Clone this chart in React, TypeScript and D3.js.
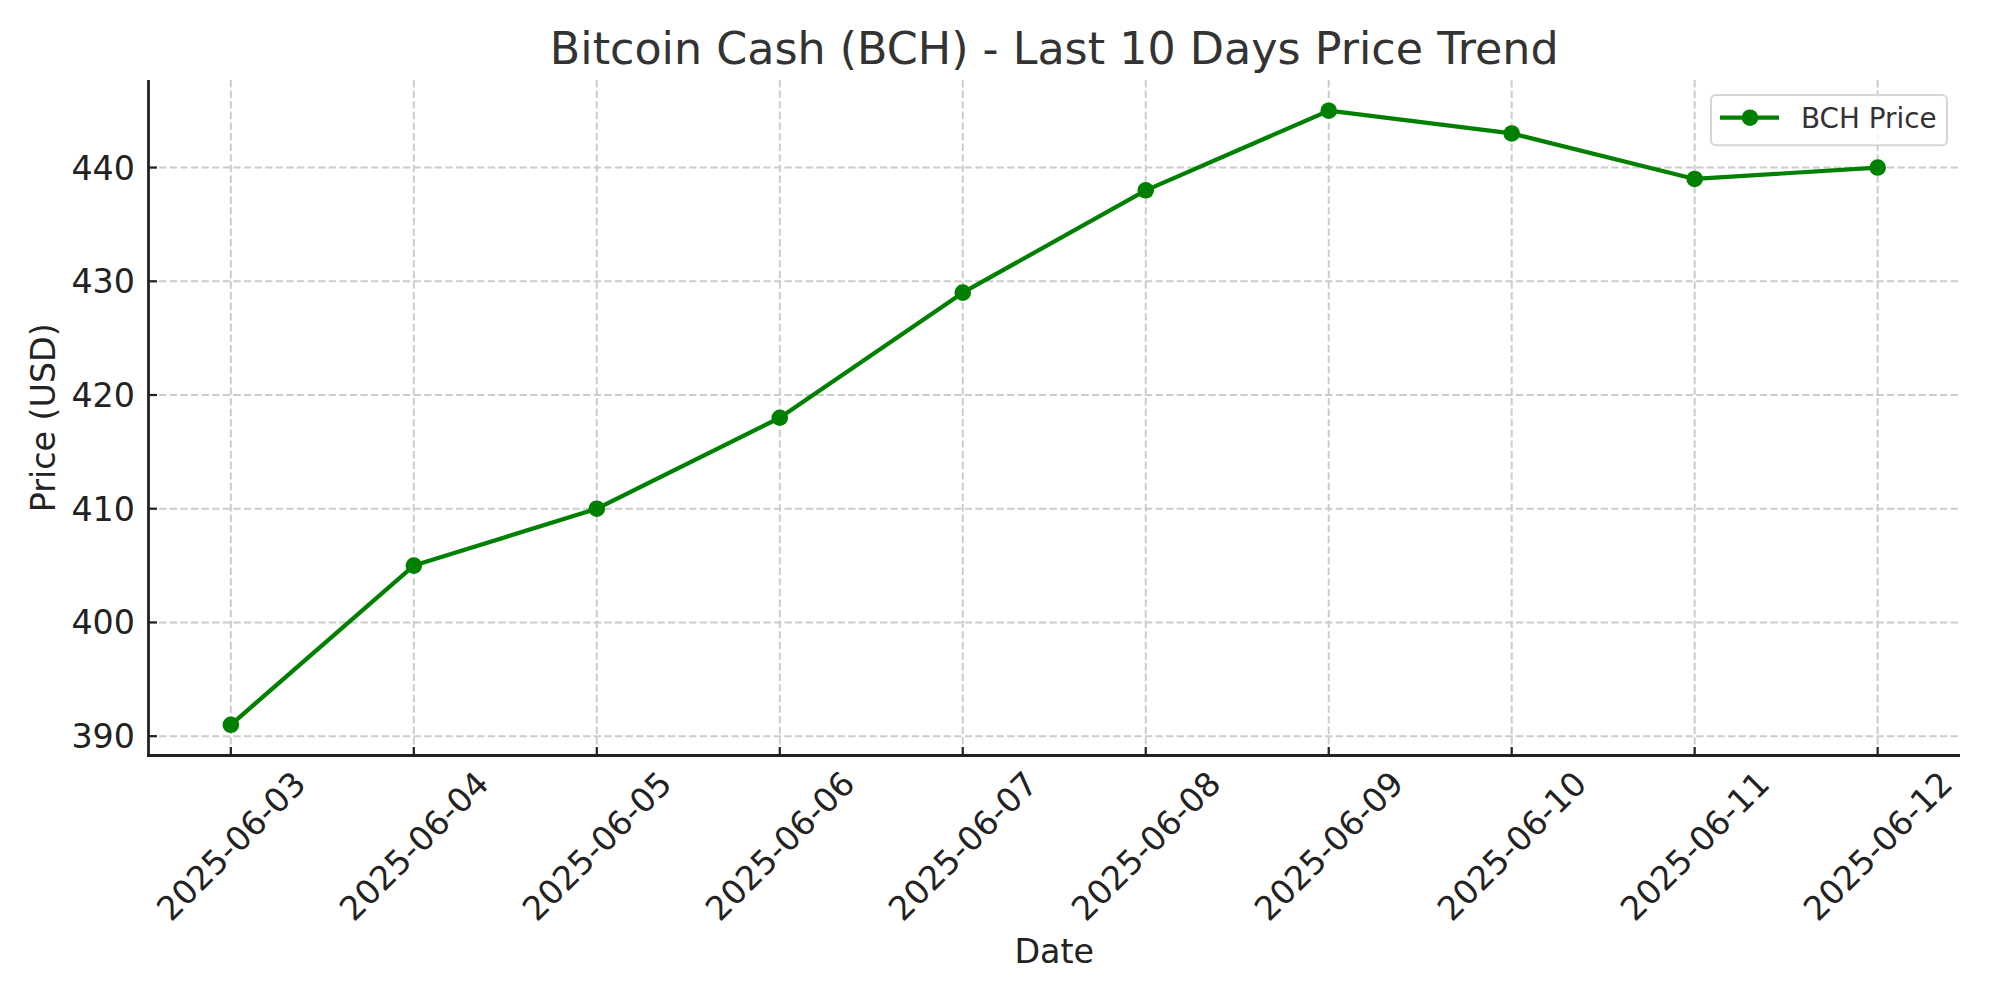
import React from "react";
import * as d3 from "d3";

const dates = [
  "2025-06-03",
  "2025-06-04",
  "2025-06-05",
  "2025-06-06",
  "2025-06-07",
  "2025-06-08",
  "2025-06-09",
  "2025-06-10",
  "2025-06-11",
  "2025-06-12",
];
const prices = [391, 405, 410, 418, 429, 438, 445, 443, 439, 440];
const yTicks = [390, 400, 410, 420, 430, 440];
const seriesName = "BCH Price";
const title = "Bitcoin Cash (BCH) - Last 10 Days Price Trend";

const W = 2000;
const H = 1000;
const left = 148.5;
const right = 1960;
const top = 80;
const bottom = 755.5;
const FONT = "'DejaVu Sans', sans-serif";
const GREEN = "#008000";

export default function App() {
  const n = dates.length;
  const pad = (n - 1) * 0.05;
  const x = d3.scaleLinear().domain([-pad, n - 1 + pad]).range([left, right]);
  const yMin = d3.min(prices)!;
  const yMax = d3.max(prices)!;
  const yPad = (yMax - yMin) * 0.05;
  const y = d3.scaleLinear().domain([yMin - yPad, yMax + yPad]).range([bottom, top]);

  const line = d3
    .line<number>()
    .x((_, i) => x(i))
    .y((d) => y(d));

  const labelCY = 845.8;

  return (
    <svg
      width={W}
      height={H}
      style={{ position: "absolute", left: 0, top: 0, background: "#fff" }}
      fontFamily={FONT}
    >
      <rect x={0} y={0} width={W} height={H} fill="#fff" />
      {/* grid */}
      <g stroke="#cccccc" strokeWidth={2} strokeDasharray="7.4 3.2" fill="none">
        {dates.map((_, i) => (
          <line key={"gx" + i} x1={x(i)} x2={x(i)} y1={top} y2={bottom} />
        ))}
        {yTicks.map((t) => (
          <line key={"gy" + t} x1={left} x2={right} y1={y(t)} y2={y(t)} />
        ))}
      </g>
      {/* line & markers */}
      <path d={line(prices)!} fill="none" stroke={GREEN} strokeWidth={4.2} strokeLinejoin="round" />
      {prices.map((p, i) => (
        <circle key={"m" + i} cx={x(i)} cy={y(p)} r={8.3} fill={GREEN} />
      ))}
      {/* spines */}
      <line x1={left} x2={left} y1={top} y2={bottom + 1.4} stroke="#222" strokeWidth={2.8} />
      <line x1={left - 1.4} x2={right} y1={bottom} y2={bottom} stroke="#222" strokeWidth={2.8} />
      {/* y ticks */}
      {yTicks.map((t) => (
        <g key={"yt" + t}>
          <line x1={left} x2={left + 8.5} y1={y(t)} y2={y(t)} stroke="#222" strokeWidth={2.2} />
          <text
            x={135}
            y={y(t)}
            dy="0.36em"
            textAnchor="end"
            fontSize={33.3}
            fill="#222"
          >
            {t}
          </text>
        </g>
      ))}
      {/* x ticks */}
      {dates.map((d, i) => (
        <g key={"xt" + i}>
          <line x1={x(i)} x2={x(i)} y1={bottom} y2={bottom - 8.5} stroke="#222" strokeWidth={2.2} />
          <text
            x={x(i)}
            y={labelCY}
            dy="0.36em"
            textAnchor="middle"
            fontSize={33.3}
            fill="#222"
            transform={`rotate(-45, ${x(i)}, ${labelCY})`}
          >
            {d}
          </text>
        </g>
      ))}
      {/* axis labels */}
      <text x={(left + right) / 2} y={962.7} textAnchor="middle" fontSize={33.3} fill="#222">
        Date
      </text>
      <text
        x={55}
        y={(top + bottom) / 2}
        textAnchor="middle"
        fontSize={33.3}
        fill="#222"
        transform={`rotate(-90, 55, ${(top + bottom) / 2})`}
      >
        Price (USD)
      </text>
      {/* title */}
      <text x={(left + right) / 2} y={64.3} textAnchor="middle" fontSize={44.4} fill="#333">
        {title}
      </text>
      {/* legend */}
      <g>
        <rect
          x={1711}
          y={95}
          width={236}
          height={50.3}
          rx={5}
          fill="#fff"
          fillOpacity={0.8}
          stroke="#d6d6d6"
          strokeWidth={2}
        />
        <line x1={1720} x2={1779} y1={117.7} y2={117.7} stroke={GREEN} strokeWidth={4.2} />
        <circle cx={1750} cy={117.7} r={8.3} fill={GREEN} />
        <text x={1801} y={127.8} fontSize={27.8} fill="#333">
          {seriesName}
        </text>
      </g>
    </svg>
  );
}
